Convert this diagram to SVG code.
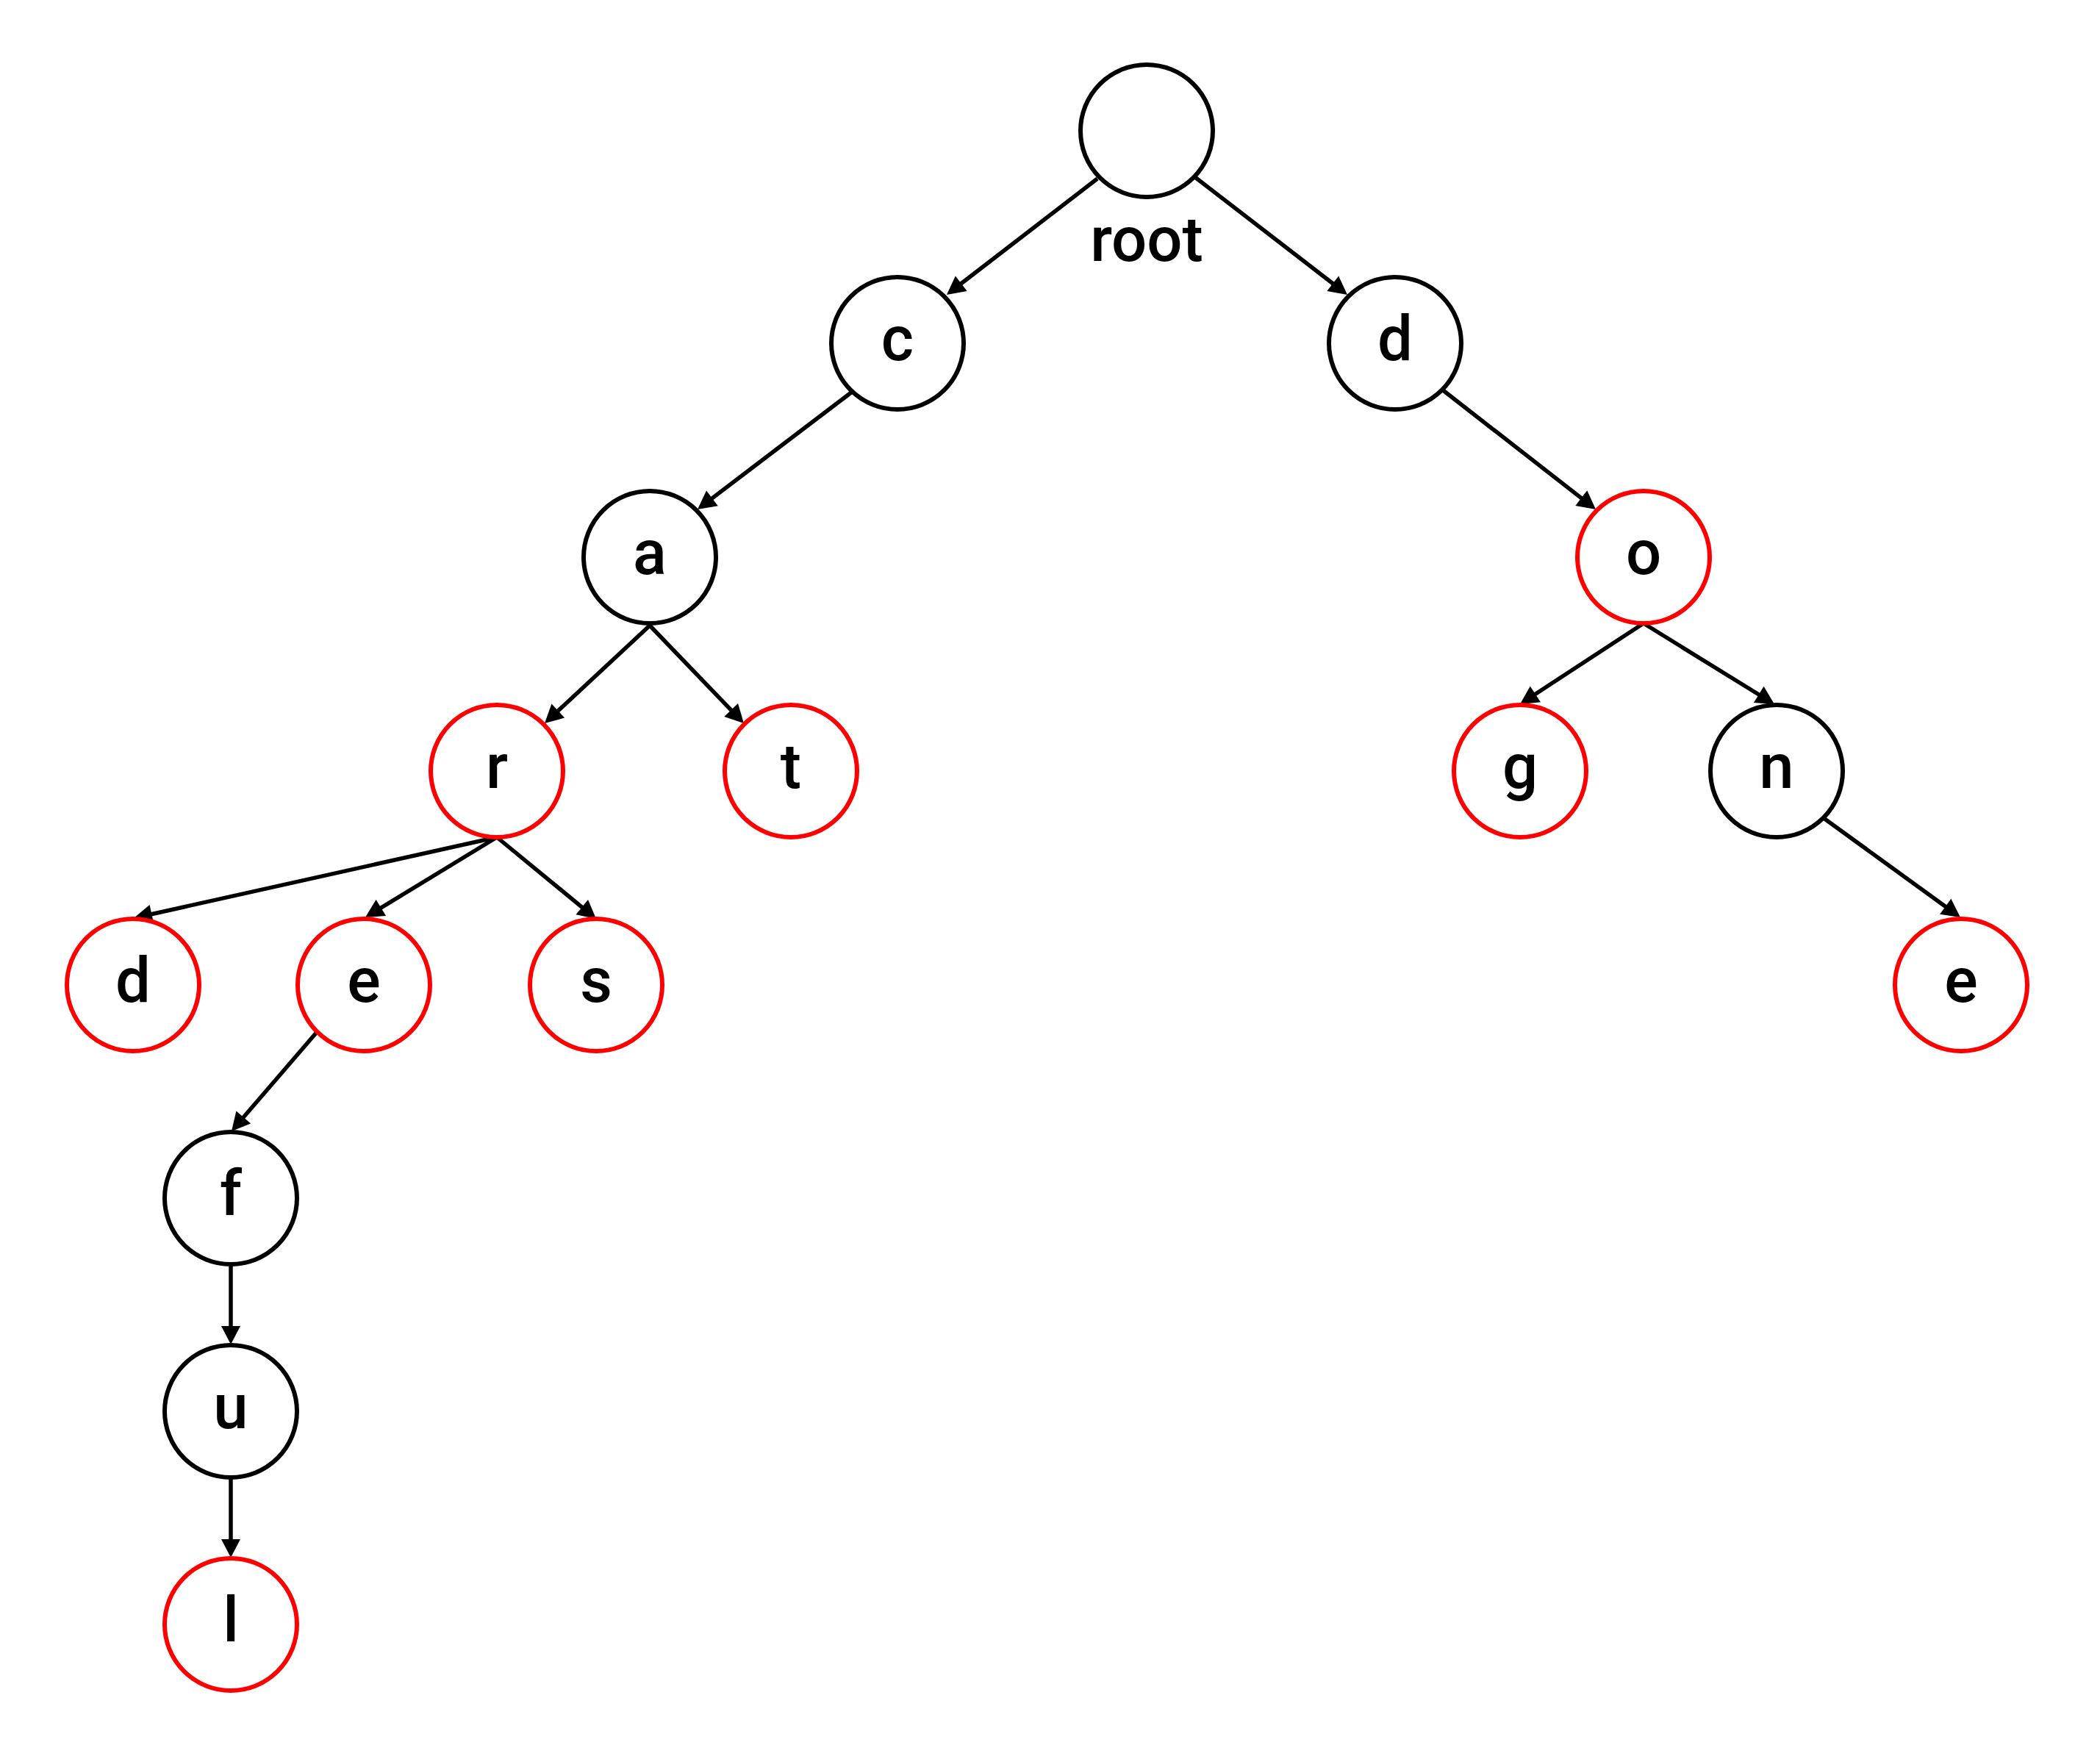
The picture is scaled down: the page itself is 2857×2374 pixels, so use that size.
<svg xmlns="http://www.w3.org/2000/svg" width="2857" height="2374" viewBox="0 0 2857 2374">
<style>
.n{fill:#fff;stroke:#000;stroke-width:6}
.leaf{fill:#fff;stroke:#ff0000;stroke-width:6}
.t{font-family:Roboto,"Liberation Sans",Arial,sans-serif;font-weight:500;font-size:85px;fill:#000;text-anchor:middle}
.e{fill:none;stroke:#000;stroke-width:5.5;marker-end:url(#ah)}
</style>
<defs>
<marker id="ah" markerUnits="userSpaceOnUse" markerWidth="26" markerHeight="26" refX="5" refY="13" orient="auto" viewBox="0 0 26 26" overflow="visible">
<path d="M0,0 L25,13 L0,26 z" fill="#000"/>
</marker>
</defs>
<rect width="2857" height="2374" fill="#fff"/>
<g id="edges">
<path class="e" d="M1493,243 L1303.8,388.8"/>
<path class="e" d="M1627,242 L1817.2,388.8"/>
<path class="e" d="M1158,534 L964.9,680.9"/>
<path class="e" d="M884,851 L755.6,970.4"/>
<path class="e" d="M884,851 L998.1,969.6"/>
<path class="e" d="M1962,530 L2155.2,680.7"/>
<path class="e" d="M2236,848 L2084.7,947"/>
<path class="e" d="M2236,848 L2397,947.5"/>
<path class="e" d="M2481,1113 L2650.8,1236.2"/>
<path class="e" d="M676,1139 L201.5,1244.7"/>
<path class="e" d="M676,1139 L514.1,1237.6"/>
<path class="e" d="M676,1139 L795.6,1237.3"/>
<path class="e" d="M432,1403 L328,1523.8"/>
<path class="e" d="M314,1721 L314,1809"/>
<path class="e" d="M314,2011 L314,2099"/>
</g>
<g id="root"><circle class="n" cx="1560" cy="178" r="90"/><text class="t" x="1560" y="355">root</text></g>
<g id="c"><circle class="n" cx="1221" cy="467" r="90"/><text class="t" x="1221" y="490">c</text></g>
<g id="d"><circle class="n" cx="1898" cy="467" r="90"/><text class="t" x="1898" y="490">d</text></g>
<g id="a"><circle class="n" cx="884" cy="758" r="90"/><text class="t" x="884" y="781">a</text></g>
<g id="o"><circle class="leaf" cx="2236" cy="758" r="90"/><text class="t" x="2236" y="781">o</text></g>
<g id="r"><circle class="leaf" cx="676" cy="1049" r="90"/><text class="t" x="676" y="1072">r</text></g>
<g id="t"><circle class="leaf" cx="1076" cy="1049" r="90"/><text class="t" x="1076" y="1072">t</text></g>
<g id="g"><circle class="leaf" cx="2068" cy="1049" r="90"/><text class="t" x="2068" y="1072">g</text></g>
<g id="n"><circle class="n" cx="2417" cy="1049" r="90"/><text class="t" x="2417" y="1072">n</text></g>
<g id="d2"><circle class="leaf" cx="181" cy="1340" r="90"/><text class="t" x="181" y="1363">d</text></g>
<g id="e"><circle class="leaf" cx="495" cy="1340" r="90"/><text class="t" x="495" y="1363">e</text></g>
<g id="s"><circle class="leaf" cx="811" cy="1340" r="90"/><text class="t" x="811" y="1363">s</text></g>
<g id="e2"><circle class="leaf" cx="2668" cy="1340" r="90"/><text class="t" x="2668" y="1363">e</text></g>
<g id="f"><circle class="n" cx="314" cy="1630" r="90"/><text class="t" x="314" y="1653">f</text></g>
<g id="u"><circle class="n" cx="314" cy="1920" r="90"/><text class="t" x="314" y="1943">u</text></g>
<g id="l"><circle class="leaf" cx="314" cy="2210" r="90"/><text class="t" x="314" y="2233">l</text></g>
</svg>
